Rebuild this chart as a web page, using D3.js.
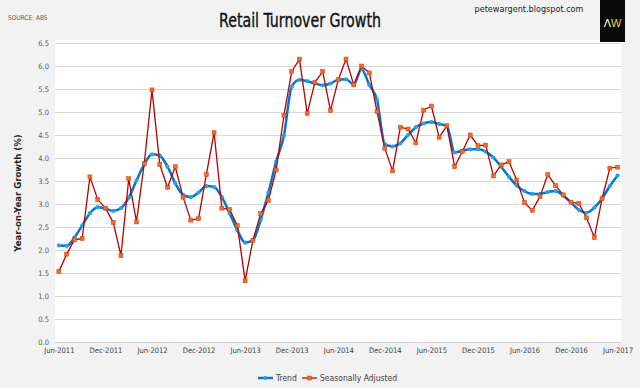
<!DOCTYPE html>
<html>
<head>
<meta charset="utf-8">
<script src="https://cdn.jsdelivr.net/npm/d3@7"></script>
<style>
  html, body { margin: 0; padding: 0; background: #f2f2f2; }
  svg { display: block; }
  text { font-family: "Liberation Sans Narrow", "DejaVu Sans Condensed", "Liberation Sans", sans-serif; }
</style>
</head>
<body>
<svg id="container" width="640" height="388"></svg>
<script>
// monthly, Jun-2011 .. Jun-2017
const startMonth = new Date(2011, 5, 1);
const endMonth = new Date(2017, 6, 1);
const tickLabels = ["Jun-2011", "Dec-2011", "Jun-2012", "Dec-2012", "Jun-2013", "Dec-2013",
  "Jun-2014", "Dec-2014", "Jun-2015", "Dec-2015", "Jun-2016", "Dec-2016", "Jun-2017"];
const yTicks = d3.range(0, 6.51, 0.5);

const trend = [2.10, 2.09, 2.27, 2.53, 2.80, 2.93, 2.90, 2.85, 2.91, 3.14,
  3.51, 3.86, 4.08, 4.05, 3.81, 3.45, 3.20, 3.15, 3.25, 3.39,
  3.37, 3.15, 2.80, 2.43, 2.16, 2.21, 2.65, 3.25, 3.92, 4.49,
  5.55, 5.70, 5.67, 5.62, 5.58, 5.62, 5.70, 5.71, 5.60, 5.93,
  5.59, 5.26, 4.30, 4.25, 4.32, 4.50, 4.67, 4.75, 4.78, 4.74,
  4.70, 4.12, 4.16, 4.19, 4.19, 4.14, 4.01, 3.81, 3.59, 3.40,
  3.28, 3.22, 3.22, 3.26, 3.28, 3.18, 3.03, 2.87, 2.81, 2.92,
  3.12, 3.39, 3.62];

const seasAdj = [1.53, 1.91, 2.22, 2.25, 3.59, 3.10, 2.91, 2.60, 1.88, 3.55,
  2.61, 3.88, 5.48, 3.86, 3.36, 3.81, 3.15, 2.65, 2.68, 3.64,
  4.55, 2.91, 2.88, 2.53, 1.33, 2.21, 2.79, 3.08, 3.74, 4.93,
  5.88, 6.15, 4.97, 5.65, 5.88, 5.03, 5.70, 6.15, 5.59, 6.00,
  5.85, 5.01, 4.21, 3.72, 4.67, 4.63, 4.33, 5.04, 5.13, 4.45,
  4.70, 3.81, 4.14, 4.50, 4.27, 4.28, 3.61, 3.85, 3.92, 3.52,
  3.03, 2.86, 3.16, 3.64, 3.40, 3.20, 3.04, 3.01, 2.70, 2.27,
  3.12, 3.78, 3.80];

const months = d3.timeMonth.range(startMonth, endMonth);
const fmt = d3.timeFormat("%b-%Y");

const svg = d3.select('#container');
const plot = { left: 55, right: 621.5, top: 43, bottom: 342 };

const x = d3.scalePoint()
  .domain(months.map(fmt))
  .range([plot.left, plot.right])
  .padding(0.5);
const y = d3.scaleLinear().domain([0, 6.5]).range([plot.bottom, plot.top]);

// plot background
svg.append('rect')
  .attr('x', plot.left).attr('y', plot.top - 3)
  .attr('width', plot.right - plot.left).attr('height', plot.bottom - plot.top + 3)
  .attr('fill', '#ffffff');

// y gridlines + labels
const yAxis = d3.axisLeft(y)
  .tickValues(yTicks)
  .tickSize(-(plot.right - plot.left))
  .tickPadding(6)
  .tickFormat(d3.format('.1f'));
const gy = svg.append('g')
  .attr('transform', `translate(${plot.left},0)`)
  .call(yAxis);
gy.select('.domain').remove();
gy.selectAll('line').attr('stroke', '#d9d9d9').attr('stroke-width', 1);
gy.selectAll('text')
  .attr('font-size', 7.5)
  .attr('fill', '#595959')
  .style('font-family', '"Liberation Sans Narrow", "DejaVu Sans Condensed", sans-serif');

// x labels
const xAxis = d3.axisBottom(x)
  .tickValues(tickLabels)
  .tickSize(0)
  .tickPadding(6);
const gx = svg.append('g')
  .attr('transform', `translate(0,${plot.bottom})`)
  .call(xAxis);
gx.select('.domain').remove();
gx.selectAll('text')
  .attr('font-size', 7.5)
  .attr('fill', '#404040')
  .style('font-family', '"Liberation Sans Narrow", "DejaVu Sans Condensed", sans-serif');

// bottom gridline a touch darker
svg.append('line')
  .attr('x1', plot.left).attr('x2', plot.right)
  .attr('y1', y(0) + 0.5).attr('y2', y(0) + 0.5)
  .attr('stroke', '#d0d0d0');

const trendData = months.map((m, i) => ({ k: fmt(m), v: trend[i] }));
const saData = months.map((m, i) => ({ k: fmt(m), v: seasAdj[i] }));

const line = d3.line()
  .x(d => x(d.k))
  .y(d => y(d.v));

// trend line
svg.append('path')
  .datum(trendData)
  .attr('d', line.curve(d3.curveMonotoneX))
  .attr('fill', 'none')
  .attr('stroke', '#0b72c4')
  .attr('stroke-width', 2.5)
  .attr('stroke-linejoin', 'round');

svg.append('g')
  .selectAll('circle')
  .data(trendData)
  .join('circle')
  .attr('cx', d => x(d.k))
  .attr('cy', d => y(d.v))
  .attr('r', 2.1)
  .attr('fill', '#22a3e8');

// seasonally adjusted line
svg.append('path')
  .datum(saData)
  .attr('d', line.curve(d3.curveLinear))
  .attr('fill', 'none')
  .attr('stroke', '#b80000')
  .attr('stroke-width', 1.3)
  .attr('stroke-linejoin', 'round');

svg.append('g')
  .selectAll('rect')
  .data(saData)
  .join('rect')
  .attr('x', d => x(d.k) - 2)
  .attr('y', d => y(d.v) - 2)
  .attr('width', 4)
  .attr('height', 4)
  .attr('fill', '#f26a2a')
  .attr('stroke', '#c8400c')
  .attr('stroke-width', 0.5);

// y axis title
svg.append('text')
  .attr('transform', `translate(21,193) rotate(-90)`)
  .attr('text-anchor', 'middle')
  .attr('font-size', 9.5)
  .attr('font-weight', 'bold')
  .attr('fill', '#262626')
  .text('Year-on-Year Growth (%)');

// title
svg.append('text')
  .attr('x', 300).attr('y', 27)
  .attr('text-anchor', 'middle')
  .attr('font-size', 19)
  .attr('textLength', 162)
  .attr('lengthAdjust', 'spacingAndGlyphs')
  .attr('fill', '#111111')
  .attr('stroke', '#111111')
  .attr('stroke-width', 0.35)
  .text('Retail Turnover Growth');

svg.append('text')
  .attr('x', 8).attr('y', 20)
  .attr('font-size', 6.5)
  .attr('fill', '#595959')
  .text('SOURCE: ABS');

svg.append('text')
  .attr('x', 529).attr('y', 12)
  .attr('text-anchor', 'middle')
  .attr('font-size', 9)
  .attr('fill', '#1a1a1a')
  .text('petewargent.blogspot.com');

// logo
svg.append('rect')
  .attr('x', 600).attr('y', 0)
  .attr('width', 25).attr('height', 42)
  .attr('fill', '#0a0a0a');
const logo = svg.append('text')
  .attr('x', 612.5).attr('y', 27)
  .attr('text-anchor', 'middle')
  .attr('font-size', 11)
  .style('font-family', '"Liberation Sans", sans-serif');
logo.append('tspan').attr('fill', '#ffffff').text('\u039B');
logo.append('tspan').attr('fill', '#e6dc3c').text('W');

// legend
const legend = svg.append('g').attr('transform', 'translate(0,378)');
const items = [
  { name: 'Trend', color: '#0b72c4', marker: 'circle', mfill: '#22a3e8', x: 258 },
  { name: 'Seasonally Adjusted', color: '#b80000', marker: 'rect', mfill: '#f26a2a', x: 302 }
];
items.forEach(it => {
  const g = legend.append('g').attr('transform', `translate(${it.x},0)`);
  g.append('line')
    .attr('x1', 0).attr('x2', 15).attr('y1', 0).attr('y2', 0)
    .attr('stroke', it.color)
    .attr('stroke-width', it.marker === 'circle' ? 2.4 : 1.3);
  if (it.marker === 'circle') {
    g.append('circle').attr('cx', 7.5).attr('cy', 0).attr('r', 2.1).attr('fill', it.mfill);
  } else {
    g.append('rect').attr('x', 5.5).attr('y', -2).attr('width', 4).attr('height', 4)
      .attr('fill', it.mfill).attr('stroke', '#c8400c').attr('stroke-width', 0.5);
  }
  g.append('text')
    .attr('x', 18).attr('y', 3)
    .attr('font-size', 8.5)
    .attr('fill', '#404040')
    .text(it.name);
});
</script>
</body>
</html>
